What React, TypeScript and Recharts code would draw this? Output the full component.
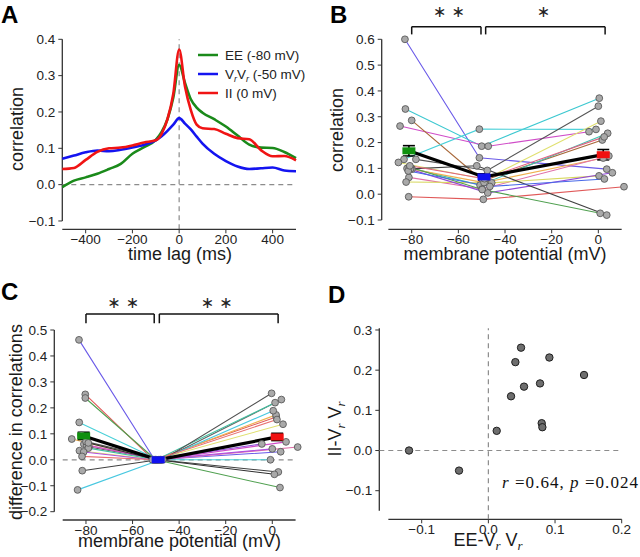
import React from 'react';
import {
  LineChart, Line, XAxis, YAxis, ReferenceLine, ReferenceDot, Legend,
  ScatterChart, Scatter, ErrorBar,
} from 'recharts';

const SANS = '"Liberation Sans", Arial, Helvetica, sans-serif';
const SERIF = '"Liberation Serif", "Times New Roman", serif';
const AX = '#333333';
const DASH = '#8c8c8c';

// ---------- Panel A data ----------
const lagMs = [-500, -450, -400, -350, -300, -250, -200, -150, -100, -75, -50, -25, 0, 25, 50, 75, 100, 150, 200, 250, 300, 350, 400, 450, 500];
const corrEE = [-0.007, 0.011, 0.02, 0.03, 0.043, 0.057, 0.085, 0.103, 0.123, 0.145, 0.18, 0.24, 0.33, 0.28, 0.235, 0.212, 0.198, 0.18, 0.16, 0.135, 0.11, 0.102, 0.101, 0.09, 0.073];
const corrVrVr = [0.071, 0.08, 0.089, 0.094, 0.092, 0.096, 0.102, 0.11, 0.122, 0.133, 0.148, 0.165, 0.183, 0.168, 0.152, 0.132, 0.113, 0.085, 0.065, 0.05, 0.043, 0.045, 0.047, 0.039, 0.037];
const corrII = [0.043, 0.046, 0.068, 0.09, 0.1, 0.102, 0.108, 0.116, 0.122, 0.14, 0.18, 0.25, 0.372, 0.27, 0.205, 0.165, 0.155, 0.153, 0.14, 0.128, 0.125, 0.095, 0.078, 0.079, 0.067];
const lagTicks = [-400, -200, 0, 200, 400];
const corrTicksA = [-0.1, 0, 0.1, 0.2, 0.3, 0.4];
const seriesKeysA = ['ee', 'vr', 'ii'];
const seriesColorsA = ['#1a8a1a', '#1414f0', '#f01414'];

// ---------- Panel B data ----------
const bEEmV = [-82.9, -82.7, -85.0, -80.0, -83.3, -78.2, -85.7, -80.0, -79.9, -81.2, -82.4, -81.3, -82.0, -81.0, -80.5, -81.5, -80.8];
const bEE = [0.600, 0.330, 0.264, 0.286, 0.135, 0.135, 0.123, 0.100, 0.097, 0.065, 0.047, -0.010, 0.100, 0.105, 0.098, 0.090, 0.110];
const bVrmV = [-51.0, -50.0, -47.2, -49.5, -51.0, -47.6, -48.5, -50.7, -49.0, -49.8, -45.7, -49.3, -47.4, -49.8, -52.1, -46.5, -48.8];
const bVr = [0.141, 0.186, 0.186, 0.052, 0.252, 0.092, 0.058, 0.035, 0.045, 0.020, 0.044, -0.020, 0.005, 0.018, 0.110, 0.030, 0.060];
const bIImV = [3.6, 0.4, -4.0, 1.7, -1.0, 0.0, 1.1, 4.0, 2.1, 4.5, 0.3, 11.0, 6.0, 0.8, 3.6, 2.6, 2.5];
const bII = [0.097, 0.372, 0.242, 0.210, 0.251, 0.341, 0.283, 0.236, 0.140, 0.148, 0.071, 0.029, 0.083, -0.074, -0.081, 0.059, 0.222];
const bColors = ['#6a5ae8', '#3cc8d0', '#d04cc8', '#a8683a', '#48d0d8', '#555555', '#e0e070', '#40c0b0', '#f0b050', '#e070a8', '#d8d860', '#e05858', '#9048d8', '#50a050', '#404040', '#4868e8', '#e06080'];
const bMeanmV = [-81.2, -49.0, 2.1];
const bMean = [0.168, 0.067, 0.153];
const bMeanErr = [0.02, 0.012, 0.02];
const bTicksX = [-80, -60, -40, -20, 0];
const bTicksY = [-0.1, 0, 0.1, 0.2, 0.3, 0.4, 0.5, 0.6];

// ---------- Panel C data ----------
const cEEmV = [-83.0, -80.3, -80.3, -82.9, -86.1, -80.9, -78.7, -79.7, -82.8, -79.0, -81.6, -83.6, -82.0, -80.0, -81.0, -79.0, -81.7];
const cEE = [0.462, 0.252, 0.238, 0.144, 0.080, 0.060, 0.049, 0.056, 0.035, 0.045, -0.042, -0.116, 0.095, 0.070, 0.030, 0.065, 0.013];
const cVrmV = [-50.5, -51.0, -50.0, -49.0, -49.5, -48.0, -47.5, -48.5, -50.2, -49.8, -49.0, -48.0, -50.8, -47.0, -51.5, -49.5, -50.0];
const cVr = [0, 0, 0, 0, 0, 0, 0, 0, 0, 0, 0, 0, 0, 0, 0, 0, 0];
const cIImV = [3.6, 1.7, 3.3, -0.8, 1.6, 10.9, 3.9, 5.9, 4.6, 1.2, 2.6, 0.4, -4.5, -0.3, 0.0, 0.9, 2.0];
const cII = [0.031, 0.165, -0.107, 0.000, 0.173, 0.049, 0.232, 0.069, 0.137, 0.220, -0.047, 0.189, 0.061, 0.256, 0.042, -0.056, 0.155];
const cColors = ['#6a5ae8', '#e05858', '#50a050', '#48d0d8', '#f0b050', '#e070a8', '#606060', '#d04cc8', '#e0e070', '#40c0a0', '#404040', '#48c8e0', '#9048d8', '#505050', '#b050e0', '#303030', '#e87070'];
const cMeanmV = [-81.0, -49.0, 2.1];
const cMean = [0.092, 0.0, 0.088];
const cMeanErr = [0.014, 0.003, 0.014];
const cTicksX = [-80, -60, -40, -20, 0];
const cTicksY = [-0.2, -0.1, 0, 0.1, 0.2, 0.3, 0.4, 0.5];

// ---------- Panel D data ----------
const dEE = [-0.119, -0.044, 0.0125, 0.034, 0.0405, 0.049, 0.0535, 0.0775, 0.080, 0.081, 0.0915, 0.1435];
const dII = [0.0, -0.05, 0.049, 0.135, 0.22, 0.256, 0.159, 0.167, 0.068, 0.058, 0.2315, 0.188];
const dTicksX = [-0.1, 0, 0.1, 0.2];
const dTicksY = [-0.1, 0, 0.1, 0.2, 0.3];

const meanColors = ['#10900f', '#1010f0', '#f01010'];

// ---------- helpers ----------
const fmt1 = (v: number) => (v < -1e-9 ? '\u2212' : '') + Math.abs(v).toFixed(1);
const fmt0 = (v: number) => (v < -1e-9 ? '\u2212' : '') + Math.abs(v).toFixed(0);
const tickStyle = { fontSize: 13.5, fill: '#222', fontFamily: SANS };
const spine = { stroke: AX, strokeWidth: 1.3, ifOverflow: 'visible' as const };
const grayDot = { r: 3.4, fill: '#a9a9a9', stroke: '#5a5a5a', strokeWidth: 0.9, clipDot: false };
const bracketStyle = { stroke: '#111', strokeWidth: 1.5, ifOverflow: 'visible' as const };
const starLabel = (value: string) => ({ value, position: 'center' as const, fontSize: 16, fill: '#222', fontFamily: '"DejaVu Sans", sans-serif' });

const seriesA = lagMs.map((lag, i) => ({ lag, ee: corrEE[i], vr: corrVrVr[i], ii: corrII[i] }));
const cellsB = bColors.map((_, i) => [
  { x: bEEmV[i], y: bEE[i] }, { x: bVrmV[i], y: bVr[i] }, { x: bIImV[i], y: bII[i] },
]);
const meanB = bMeanmV.map((x, i) => ({ x, y: bMean[i], err: bMeanErr[i] }));
const cellsC = cColors.map((_, i) => [
  { x: cEEmV[i], y: cEE[i] }, { x: cVrmV[i], y: cVr[i] }, { x: cIImV[i], y: cII[i] },
]);
const meanC = cMeanmV.map((x, i) => ({ x, y: cMean[i], err: cMeanErr[i] }));
const pointsD = dEE.map((x, i) => ({ x, y: dII[i] }));

const meanDot = (p: any) => {
  const { cx, cy, index } = p;
  if (cx == null || cy == null) return <g key={`md${index}`} />;
  return <rect key={`md${index}`} x={cx - 6.5} y={cy - 3.5} width={13} height={7} fill={meanColors[index]} />;
};

const LegendA = () => (
  <svg width={135} height={62} style={{ display: 'block', overflow: 'visible' }}>
    {seriesColorsA.map((c, i) => (
      <g key={i}>
        <line x1={8} x2={28} y1={12 + 19 * i} y2={12 + 19 * i} stroke={c} strokeWidth={2.5} />
        <text x={35} y={12 + 19 * i} dy="0.36em" fontSize={13.5} fontFamily={SANS} fill="#222">
          {i === 0 && 'EE (-80 mV)'}
          {i === 1 && (
            <>
              V<tspan fontSize={9} fontStyle="italic" dy={3}>r</tspan>
              <tspan dy={-3}>V</tspan>
              <tspan fontSize={9} fontStyle="italic" dy={3}>r</tspan>
              <tspan dy={-3}> (-50 mV)</tspan>
            </>
          )}
          {i === 2 && 'II (0 mV)'}
        </text>
      </g>
    ))}
  </svg>
);

function PanelA() {
  return (
    <LineChart width={320} height={280} data={seriesA} margin={{ top: 39.3, right: 24, bottom: 20.7, left: 12.3 }}>
      <XAxis dataKey="lag" type="number" domain={[-500, 500]} ticks={lagTicks} tickFormatter={fmt0}
        axisLine={{ stroke: AX, strokeWidth: 1.3 }} tickLine={{ stroke: AX }} tickSize={4} tickMargin={1}
        tick={tickStyle} height={30} interval={0} />
      <YAxis type="number" domain={[-0.1229, 0.4]} ticks={corrTicksA} tickFormatter={fmt1} axisLine={false}
        tickLine={{ stroke: AX }} tickSize={4} tickMargin={3} tick={tickStyle} width={50} interval={0} />
      <ReferenceLine segment={[{ x: -500, y: -0.1 }, { x: -500, y: 0.4 }]} {...spine} />
      <ReferenceLine y={0} stroke={DASH} strokeDasharray="5 4" strokeWidth={1.2} />
      <ReferenceLine x={0} stroke={DASH} strokeDasharray="5 4" strokeWidth={1.2} />
      {seriesKeysA.map((k, i) => (
        <Line key={k} type="monotone" dataKey={k} stroke={seriesColorsA[i]} strokeWidth={2.6} dot={false} isAnimationActive={false} />
      ))}
      <Legend layout="vertical" align="center" verticalAlign="middle" wrapperStyle={{ left: 190, top: 43, width: 135 }} content={() => <LegendA />} />
    </LineChart>
  );
}

function PanelB() {
  const yTop = 0.649, yEnd = 0.619, yStar = 0.707;
  return (
    <LineChart width={320} height={280} margin={{ top: 39.3, right: 9, bottom: 20.7, left: 11.7 }}>
      <XAxis dataKey="x" type="number" domain={[-92.86, 14]} ticks={bTicksX} tickFormatter={fmt0} axisLine={false}
        tickLine={{ stroke: AX }} tickSize={4} tickMargin={1} tick={tickStyle} height={30} interval={0} />
      <YAxis dataKey="y" type="number" domain={[-0.136, 0.6]} ticks={bTicksY} tickFormatter={fmt1} axisLine={false}
        tickLine={{ stroke: AX }} tickSize={4} tickMargin={3} tick={tickStyle} width={50} interval={0} />
      <ReferenceLine segment={[{ x: -92.86, y: -0.1 }, { x: -92.86, y: 0.6 }]} {...spine} />
      <ReferenceLine segment={[{ x: -90, y: -0.136 }, { x: 10, y: -0.136 }]} {...spine} />
      <ReferenceLine segment={[{ x: -80, y: yEnd }, { x: -80, y: yTop }]} {...bracketStyle} />
      <ReferenceLine segment={[{ x: -80, y: yTop }, { x: -50.3, y: yTop }]} {...bracketStyle} />
      <ReferenceLine segment={[{ x: -50.3, y: yEnd }, { x: -50.3, y: yTop }]} {...bracketStyle} />
      <ReferenceLine segment={[{ x: -48.3, y: yEnd }, { x: -48.3, y: yTop }]} {...bracketStyle} />
      <ReferenceLine segment={[{ x: -48.3, y: yTop }, { x: 2.9, y: yTop }]} {...bracketStyle} />
      <ReferenceLine segment={[{ x: 2.9, y: yEnd }, { x: 2.9, y: yTop }]} {...bracketStyle} />
      <ReferenceDot x={-64} y={yStar} r={0} stroke="none" fill="none" ifOverflow="visible" label={starLabel('\u2217 \u2217')} />
      <ReferenceDot x={-23.5} y={yStar} r={0} stroke="none" fill="none" ifOverflow="visible" label={starLabel('\u2217')} />
      {cellsB.map((d, i) => (
        <Line key={`b${i}`} data={d} dataKey="y" type="linear" stroke={bColors[i]} strokeWidth={1.1} dot={grayDot} isAnimationActive={false} />
      ))}
      <Line data={meanB} dataKey="y" type="linear" stroke="#000" strokeWidth={3.2} dot={meanDot} isAnimationActive={false}>
        <ErrorBar dataKey="err" width={6} stroke="#000" strokeWidth={1.6} direction="y" />
      </Line>
    </LineChart>
  );
}

function PanelC() {
  const yTop = 0.562, yEnd = 0.526, yStar = 0.605;
  return (
    <LineChart width={320} height={277} margin={{ top: 50, right: 15.1, bottom: 7, left: 4.3 }}>
      <XAxis dataKey="x" type="number" domain={[-93.6, 14]} ticks={cTicksX} tickFormatter={fmt0} axisLine={false}
        tickLine={{ stroke: AX }} tickSize={4} tickMargin={1} tick={tickStyle} height={30} interval={0} />
      <YAxis dataKey="y" type="number" domain={[-0.232, 0.5]} ticks={cTicksY} tickFormatter={fmt1} axisLine={false}
        tickLine={{ stroke: AX }} tickSize={4} tickMargin={3} tick={tickStyle} width={50} interval={0} />
      <ReferenceLine segment={[{ x: -93.6, y: -0.2 }, { x: -93.6, y: 0.5 }]} {...spine} />
      <ReferenceLine segment={[{ x: -90, y: -0.232 }, { x: 10, y: -0.232 }]} {...spine} />
      <ReferenceLine segment={[{ x: -90, y: 0 }, { x: 10, y: 0 }]} stroke={DASH} strokeDasharray="5 4" strokeWidth={1.2} ifOverflow="visible" />
      <ReferenceLine segment={[{ x: -80, y: yEnd }, { x: -80, y: yTop }]} {...bracketStyle} />
      <ReferenceLine segment={[{ x: -80, y: yTop }, { x: -50.7, y: yTop }]} {...bracketStyle} />
      <ReferenceLine segment={[{ x: -50.7, y: yEnd }, { x: -50.7, y: yTop }]} {...bracketStyle} />
      <ReferenceLine segment={[{ x: -48.5, y: yEnd }, { x: -48.5, y: yTop }]} {...bracketStyle} />
      <ReferenceLine segment={[{ x: -48.5, y: yTop }, { x: 2.5, y: yTop }]} {...bracketStyle} />
      <ReferenceLine segment={[{ x: 2.5, y: yEnd }, { x: 2.5, y: yTop }]} {...bracketStyle} />
      <ReferenceDot x={-64} y={yStar} r={0} stroke="none" fill="none" ifOverflow="visible" label={starLabel('\u2217 \u2217')} />
      <ReferenceDot x={-23.9} y={yStar} r={0} stroke="none" fill="none" ifOverflow="visible" label={starLabel('\u2217 \u2217')} />
      {cellsC.map((d, i) => (
        <Line key={`c${i}`} data={d} dataKey="y" type="linear" stroke={cColors[i]} strokeWidth={1.1} dot={grayDot} isAnimationActive={false} />
      ))}
      <Line data={meanC} dataKey="y" type="linear" stroke="#000" strokeWidth={3.2} dot={meanDot} isAnimationActive={false}>
        <ErrorBar dataKey="err" width={6} stroke="#000" strokeWidth={1.6} direction="y" />
      </Line>
    </LineChart>
  );
}

const dShape = (p: any) => <circle cx={p.cx} cy={p.cy} r={3.7} fill="#6e6e6e" stroke="#1e1e1e" strokeWidth={1} />;

function PanelD() {
  return (
    <ScatterChart width={320} height={277} margin={{ top: 48.3, right: 18.3, bottom: 7.7, left: 9.3 }}>
      <XAxis dataKey="x" type="number" domain={[-0.1636, 0.2]} ticks={dTicksX} tickFormatter={fmt1} axisLine={false}
        tickLine={{ stroke: AX }} tickSize={4} tickMargin={1} tick={tickStyle} height={30} interval={0} />
      <YAxis dataKey="y" type="number" domain={[-0.1712, 0.3042]} ticks={dTicksY} tickFormatter={fmt1} axisLine={false}
        tickLine={{ stroke: AX }} tickSize={4} tickMargin={3} tick={tickStyle} width={50} interval={0} />
      <ReferenceLine segment={[{ x: -0.1636, y: -0.15 }, { x: -0.1636, y: 0.3042 }]} {...spine} />
      <ReferenceLine segment={[{ x: -0.15, y: -0.1712 }, { x: 0.2, y: -0.1712 }]} {...spine} />
      <ReferenceLine y={0} stroke={DASH} strokeDasharray="5 4" strokeWidth={1.2} />
      <ReferenceLine x={0} stroke={DASH} strokeDasharray="5 4" strokeWidth={1.2} />
      <Scatter data={pointsD} shape={dShape} isAnimationActive={false} />
    </ScatterChart>
  );
}

const subR = (key: string) => (
  <tspan key={key} fontSize={13} fontStyle="italic" fontFamily={SERIF} dy={4}>r</tspan>
);

function Overlay() {
  const t = { fontSize: 18, fontFamily: SANS, fill: '#1a1a1a' };
  const letter = { fontSize: 24, fontFamily: SANS, fontWeight: 700, fill: '#000' };
  return (
    <svg width={640} height={557} style={{ position: 'absolute', left: 0, top: 0, pointerEvents: 'none' }}>
      <text x={1} y={22.5} {...letter}>A</text>
      <text x={330} y={22.5} {...letter}>B</text>
      <text x={1} y={300} {...letter}>C</text>
      <text x={328} y={303} {...letter}>D</text>

      <text x={180} y={260} textAnchor="middle" {...t}>time lag (ms)</text>
      <text transform="translate(23,129) rotate(-90)" textAnchor="middle" {...t}>correlation</text>

      <text x={505} y={260} textAnchor="middle" {...t}>membrane potential (mV)</text>
      <text transform="translate(343,130) rotate(-90)" textAnchor="middle" {...t}>correlation</text>

      <text x={179.5} y={547} textAnchor="middle" {...t}>membrane potential (mV)</text>
      <text transform="translate(21.5,422) rotate(-90)" textAnchor="middle" {...t}>difference in correlations</text>

      <text x={488} y={546} textAnchor="middle" {...t}>
        EE-V{subR('a')}<tspan dy={-4}> V</tspan>{subR('b')}
      </text>
      <text transform="translate(341,429) rotate(-90)" textAnchor="middle" {...t}>
        II-V{subR('c')}<tspan dy={-4}> V</tspan>{subR('d')}
      </text>

      <text x={502} y={488} fontSize={17} fontFamily={SERIF} fill="#111" textLength={136} lengthAdjust="spacing">
        <tspan fontStyle="italic">r</tspan> =0.64, <tspan fontStyle="italic">p</tspan> =0.024
      </text>
    </svg>
  );
}

export default function App() {
  return (
    <div style={{ position: 'absolute', left: 0, top: 0, width: 640, height: 557, background: '#fff', overflow: 'hidden' }}>
      <div style={{ position: 'absolute', left: 0, top: 0 }}><PanelA /></div>
      <div style={{ position: 'absolute', left: 320, top: 0 }}><PanelB /></div>
      <div style={{ position: 'absolute', left: 0, top: 280 }}><PanelC /></div>
      <div style={{ position: 'absolute', left: 320, top: 280 }}><PanelD /></div>
      <Overlay />
    </div>
  );
}
